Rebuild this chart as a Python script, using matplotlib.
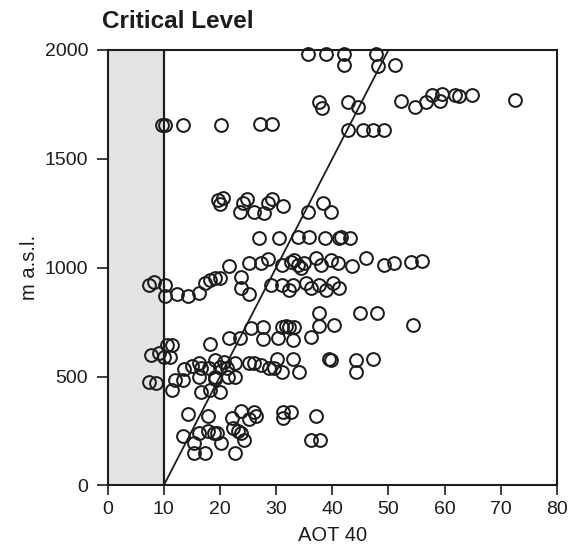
import matplotlib
matplotlib.use("Agg")
import matplotlib.pyplot as plt

plt.rcParams['font.family'] = ['Liberation Sans', 'DejaVu Sans']

# AOT 40 values and altitude (m a.s.l.) of the measurement points
aot40 = [
    35.7, 38.8, 42.1, 47.7,
    42.1, 48.1, 51.1,
    37.7, 38.2, 42.8, 44.6, 52.2, 54.7, 56.6, 57.7, 59.1, 59.6, 61.8, 62.6, 64.8, 72.5,
    9.7, 10.3, 13.4, 20.2, 27.2, 29.3,
    42.8, 45.5, 47.2, 49.2,
    19.75, 20.5, 20.0, 23.5, 24.1, 24.9, 26.1, 27.9, 28.6, 29.3, 31.2, 35.7, 38.4, 39.8,
    26.9, 30.6, 33.9, 35.8, 38.7, 41.2, 41.6, 43.2,
    21.7, 25.1, 27.4, 28.6, 31.0, 32.7, 33.2, 33.9, 34.5, 35.0, 37.1, 38.0, 39.7, 41.0,
    43.6, 46.0, 49.2, 51.0, 54.0, 56.0,
    7.4, 8.2, 10.2, 10.2, 12.4, 14.3, 16.2, 17.3, 18.2, 19.1, 20.0, 23.8, 23.8, 25.2,
    29.1, 31.0, 32.3, 33.0, 35.4, 36.2, 37.7, 38.9, 40.1, 41.2,
    37.7, 44.9, 47.9, 54.4, 37.7, 36.2, 40.3,
    25.6, 27.7, 27.7, 30.4, 31.0, 31.8, 32.3, 33.0, 33.2, 21.7, 23.5, 18.2, 11.5, 10.5,
    7.8, 9.1, 10.0, 11.1,
    12.0, 13.7, 13.5, 15.0, 16.2, 16.7, 16.2, 18.0, 19.1, 19.1, 20.0, 20.8, 21.2, 21.5,
    22.6, 22.6, 16.7, 18.2, 20.1, 19.1,
    7.3, 8.7, 11.5,
    25.1, 26.1, 27.4, 28.8, 29.7, 30.2, 31.0, 33.0, 34.1,
    39.5, 39.8, 44.2, 44.2, 47.2,
    14.4, 17.8, 22.1, 23.8, 26.1, 26.5, 25.1, 31.3, 32.7, 31.3, 37.1,
    13.5, 15.4, 16.3, 17.8, 18.9, 19.4, 20.2, 22.4, 23.2, 23.8, 24.3, 15.4, 17.3, 22.6,
    36.2, 37.8,
]
altitude = [
    1980, 1980, 1980, 1980,
    1930, 1925, 1930,
    1763, 1735, 1763, 1740, 1767, 1740, 1763, 1795, 1767, 1799, 1795, 1790, 1795, 1772,
    1656, 1656, 1656, 1656, 1660, 1660,
    1633, 1633, 1633, 1633,
    1310, 1318, 1292, 1257, 1298, 1317, 1257, 1252, 1298, 1317, 1284, 1257, 1298, 1257,
    1137, 1137, 1142, 1142, 1137, 1137, 1142, 1137,
    1009, 1023, 1023, 1041, 1014, 1028, 1037, 1014, 1000, 1023, 1046, 1014, 1037, 1023,
    1009, 1046, 1014, 1023, 1028, 1032,
    922, 936, 922, 872, 881, 872, 885, 931, 945, 954, 954, 959, 908, 881,
    922, 922, 899, 922, 931, 908, 922, 899, 931, 908,
    794, 794, 794, 738, 734, 683, 738,
    725, 729, 674, 679, 729, 734, 729, 670, 729, 679, 679, 651, 647, 647,
    601, 610, 592, 592,
    486, 537, 486, 550, 564, 541, 500, 541, 578, 500, 546, 569, 541, 500,
    564, 500, 431, 440, 427, 491,
    477, 472, 440,
    564, 564, 555, 541, 541, 583, 523, 583, 523,
    583, 578, 578, 523, 583,
    330, 317, 312, 344, 339, 321, 303, 339, 339, 312, 321,
    225, 193, 243, 248, 243, 243, 193, 266, 248, 243, 211, 151, 151, 151,
    211, 211,
]

critical_level = 10          # AOT 40 critical level
line_x = [10, 50]            # reference line
line_y = [0, 2000]
x_ticks = [0, 10, 20, 30, 40, 50, 60, 70, 80]
y_ticks = [0, 500, 1000, 1500, 2000]

ink = '#1c1c1c'
fig = plt.figure(figsize=(5.71, 5.49), dpi=100)
ax = fig.add_axes([0.1883, 0.1157, 0.7872, 0.7933])

ax.axvspan(0, critical_level, color='#e3e3e3', zorder=0, lw=0)
ax.axvline(critical_level, color=ink, lw=1.6, zorder=1)
ax.plot(line_x, line_y, color=ink, lw=1.3, zorder=2)
ax.plot(aot40, altitude, 'o', mfc='none', mec=ink, ms=9.2, mew=1.45,
        zorder=3, clip_on=False)

ax.set_xlim(0, 80)
ax.set_ylim(0, 2000)
ax.set_xticks(x_ticks)
ax.set_yticks(y_ticks)
ax.tick_params(axis='x', direction='out', length=7, width=1.2, labelsize=14,
               colors=ink, pad=4)
ax.tick_params(axis='y', direction='out', length=8, width=1.2, labelsize=14,
               colors=ink, pad=6)
for s in ax.spines.values():
    s.set_linewidth(1.5)
    s.set_color(ink)

ax.set_xlabel('AOT 40', fontsize=14.5, color=ink, labelpad=6)
ax.set_ylabel('m a.s.l.', fontsize=14.5, color=ink, labelpad=4)

fig.text(0.178, 0.96, 'Critical Level', fontsize=17.5, fontweight='bold',
         color=ink, va='center', ha='left')

fig.savefig('out.png', dpi=100, facecolor='white')
